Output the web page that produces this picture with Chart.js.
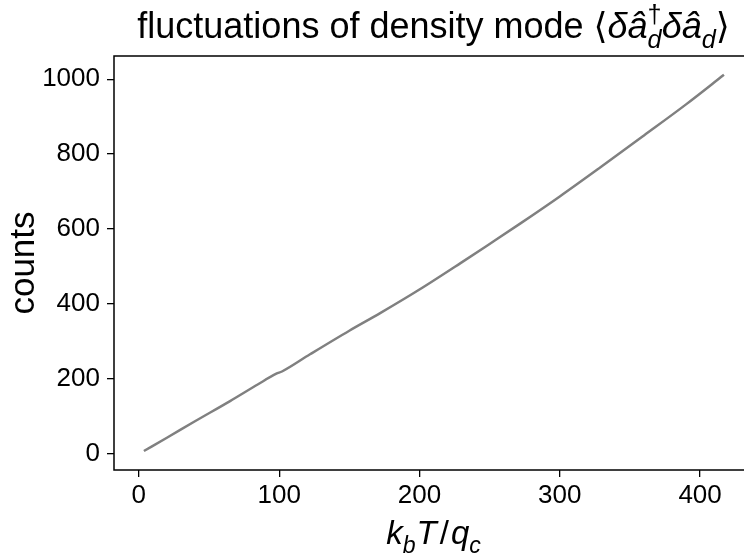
<!DOCTYPE html>
<html>
<head>
<meta charset="utf-8">
<script src="https://cdn.jsdelivr.net/npm/chart.js@4"></script>
<style>
  html, body { margin: 0; padding: 0; background: #fff; overflow: hidden; }
  #wrap { width: 744px; height: 555px; overflow: hidden; }
</style>
</head>
<body>
<div id="wrap"><canvas id="c" width="756" height="555"></canvas></div>
<script>
// temperature k_b T / q_c
const temperature = [3.6, 20, 40, 65, 85, 98, 102, 122, 150, 172, 200, 229, 250, 272, 300, 329, 360, 390, 417];
// counts of the density-mode fluctuations
const counts = [6.4, 42, 86, 140, 185, 213, 219, 265, 328, 375, 438, 508, 560, 615, 687, 765, 850, 933, 1012];
const xTicks = [0, 100, 200, 300, 400];
const yTicks = [0, 200, 400, 600, 800, 1000];

const FONT = '"Liberation Sans", Arial, sans-serif';
const SYM = '"DejaVu Sans", sans-serif';

// draws a run of text pieces (plain, italic, sub/superscripts) centred on cx
function richWidth(ctx, segs, size) {
  let w = 0;
  for (const s of segs) w += segWidth(ctx, s, size);
  return w;
}
function segFont(s, size) {
  const px = s.script ? size * 0.7 : size;
  return (s.italic ? 'italic ' : '') + px + 'px ' + (s.family || FONT);
}
function segWidth(ctx, s, size) {
  if (s.stack) return Math.max(...s.stack.map(p => segWidth(ctx, p, size)));
  ctx.font = segFont(s, size);
  return ctx.measureText(s.t).width + (s.gap || 0);
}
function drawSeg(ctx, s, x, y, size) {
  if (s.stack) { s.stack.forEach(p => drawSeg(ctx, p, x, y, size)); return; }
  ctx.font = segFont(s, size);
  let dy = 0;
  if (s.script === 'sub') dy = size * 0.28;
  if (s.script === 'sup') dy = -size * 0.42;
  ctx.fillText(s.t, x + (s.gap || 0) / 2, y + dy);
}
function drawRich(ctx, segs, cx, y, size) {
  ctx.save();
  ctx.fillStyle = '#000';
  ctx.textAlign = 'left';
  ctx.textBaseline = 'alphabetic';
  let x = cx - richWidth(ctx, segs, size) / 2;
  for (const s of segs) {
    drawSeg(ctx, s, x, y, size);
    x += segWidth(ctx, s, size);
  }
  ctx.restore();
}

const titleSegs = [
  { t: 'fluctuations of density mode ' },
  { t: '\u27E8', family: SYM },
  { t: '\u03B4', italic: true },
  { t: '\u00E2', italic: true },
  { stack: [{ t: '\u2020', script: 'sup' }, { t: 'd', italic: true, script: 'sub' }] },
  { t: '\u03B4', italic: true },
  { t: '\u00E2', italic: true },
  { t: 'd', italic: true, script: 'sub' },
  { t: '\u27E9', family: SYM }
];
const xLabelSegs = [
  { t: 'k', italic: true },
  { t: 'b', italic: true, script: 'sub' },
  { t: 'T', italic: true, gap: 2 },
  { t: '/', gap: 4 },
  { t: 'q', italic: true },
  { t: 'c', italic: true, script: 'sub' }
];

const frame = {
  id: 'frame',
  afterDraw(chart) {
    const { ctx, chartArea: a } = chart;
    ctx.save();
    ctx.strokeStyle = '#000';
    ctx.lineWidth = 1.5;
    ctx.strokeRect(a.left, a.top, a.right - a.left, a.bottom - a.top);
    ctx.restore();
    const cx = (a.left + a.right) / 2;
    drawRich(ctx, titleSegs, cx, 38, 36);
    drawRich(ctx, xLabelSegs, cx, 544, 33);
    ctx.save();
    ctx.translate(34, (a.top + a.bottom) / 2);
    ctx.rotate(-Math.PI / 2);
    ctx.fillStyle = '#000';
    ctx.textAlign = 'center';
    ctx.textBaseline = 'alphabetic';
    ctx.font = '35px ' + FONT;
    ctx.fillText('counts', 0, 0);
    ctx.restore();
  }
};

new Chart(document.getElementById('c'), {
  type: 'line',
  data: {
    datasets: [{
      data: temperature.map((t, i) => ({ x: t, y: counts[i] })),
      borderColor: '#808080',
      borderWidth: 2.5,
      pointRadius: 0,
      cubicInterpolationMode: 'monotone',
      fill: false
    }]
  },
  options: {
    responsive: false,
    animation: false,
    devicePixelRatio: 1,
    layout: { padding: { top: 56, right: 3, left: 0, bottom: 0 } },
    plugins: { legend: { display: false }, title: { display: false }, tooltip: { enabled: false } },
    scales: {
      x: {
        type: 'linear',
        min: -17.7,
        max: 437.7,
        afterBuildTicks: s => { s.ticks = xTicks.map(v => ({ value: v })); },
        afterFit: s => { s.height = 85; },
        border: { display: false },
        grid: { drawOnChartArea: false, drawTicks: true, tickLength: 7, color: '#000', lineWidth: 1.3 },
        ticks: { color: '#000', font: { family: FONT, size: 26 }, padding: 3, maxRotation: 0, callback: v => String(v) }
      },
      y: {
        type: 'linear',
        min: -44.3,
        max: 1062.3,
        afterBuildTicks: s => { s.ticks = yTicks.map(v => ({ value: v })); },
        afterFit: s => { s.width = 114; },
        border: { display: false },
        grid: { drawOnChartArea: false, drawTicks: true, tickLength: 7, color: '#000', lineWidth: 1.3 },
        ticks: { color: '#000', font: { family: FONT, size: 26 }, padding: 7, callback: v => String(v) }
      }
    }
  },
  plugins: [frame]
});
</script>
</body>
</html>
